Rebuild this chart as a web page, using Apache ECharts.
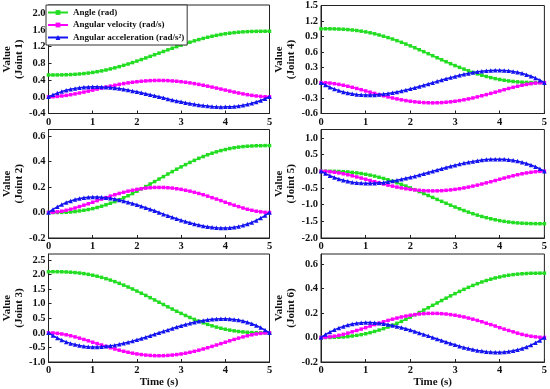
<!DOCTYPE html>
<html>
<head>
<meta charset="utf-8">
<script src="https://cdn.jsdelivr.net/npm/echarts@6/dist/echarts.min.js"></script>
<style>
html,body{margin:0;padding:0;background:#fff;}
#c{width:550px;height:389px;}
</style>
</head>
<body>
<div id="c"></div>
<script>
const time = [0,0.1,0.2,0.3,0.4,0.5,0.6,0.7,0.8,0.9,1.0,1.1,1.2,1.3,1.4,1.5,1.6,1.7,1.8,1.9,2.0,2.1,2.2,2.3,2.4,2.5,2.6,2.7,2.8,2.9,3.0,3.1,3.2,3.3,3.4,3.5,3.6,3.7,3.8,3.9,4.0,4.1,4.2,4.3,4.4,4.5,4.6,4.7,4.8,4.9,5.0];

const seriesNames = ['Angle (rad)', 'Angular velocity (rad/s)', 'Angular acceleration (rad/s\u00B2)'];
const jointNames = ['(Joint 1)', '(Joint 4)', '(Joint 2)', '(Joint 5)', '(Joint 3)', '(Joint 6)'];
const xTicks = [0,1,2,3,4,5];

const j1Angle = [0.524,0.524,0.524,0.526,0.528,0.533,0.539,0.547,0.557,0.569,0.584,0.602,0.621,0.643,0.668,0.694,0.723,0.754,0.786,0.820,0.856,0.893,0.931,0.969,1.008,1.047,1.086,1.125,1.164,1.202,1.238,1.274,1.308,1.341,1.371,1.400,1.427,1.451,1.473,1.493,1.510,1.525,1.538,1.548,1.556,1.562,1.566,1.569,1.570,1.571,1.571];
const j1Vel = [0,0.002,0.009,0.020,0.034,0.051,0.070,0.091,0.113,0.137,0.161,0.185,0.209,0.233,0.255,0.277,0.298,0.316,0.334,0.349,0.362,0.373,0.381,0.388,0.391,0.393,0.391,0.388,0.381,0.373,0.362,0.349,0.334,0.316,0.298,0.277,0.255,0.233,0.209,0.185,0.161,0.137,0.113,0.091,0.070,0.051,0.034,0.020,0.009,0.002,0];
const j1Acc = [0,0.047,0.089,0.125,0.155,0.181,0.202,0.218,0.230,0.237,0.241,0.242,0.238,0.232,0.223,0.211,0.197,0.180,0.162,0.142,0.121,0.098,0.074,0.050,0.025,0,-0.025,-0.050,-0.074,-0.098,-0.121,-0.142,-0.162,-0.180,-0.197,-0.211,-0.223,-0.232,-0.238,-0.242,-0.241,-0.237,-0.230,-0.218,-0.202,-0.181,-0.155,-0.125,-0.089,-0.047,0];

const j2Angle = [0,0,0,0.001,0.002,0.004,0.007,0.012,0.017,0.023,0.030,0.039,0.049,0.060,0.072,0.085,0.100,0.115,0.131,0.148,0.166,0.185,0.203,0.223,0.242,0.262,0.281,0.301,0.320,0.339,0.357,0.375,0.392,0.408,0.424,0.438,0.452,0.464,0.475,0.485,0.493,0.501,0.507,0.512,0.516,0.519,0.521,0.523,0.523,0.524,0.524];
const j2Vel = [0,0.001,0.005,0.010,0.017,0.025,0.035,0.046,0.057,0.068,0.080,0.093,0.105,0.116,0.128,0.139,0.149,0.158,0.167,0.174,0.181,0.186,0.191,0.194,0.196,0.196,0.196,0.194,0.191,0.186,0.181,0.174,0.167,0.158,0.149,0.139,0.128,0.116,0.105,0.093,0.080,0.068,0.057,0.046,0.035,0.025,0.017,0.010,0.005,0.001,0];
const j2Acc = [0,0.024,0.044,0.062,0.078,0.090,0.101,0.109,0.115,0.119,0.121,0.121,0.119,0.116,0.111,0.106,0.098,0.090,0.081,0.071,0.060,0.049,0.037,0.025,0.013,0,-0.013,-0.025,-0.037,-0.049,-0.060,-0.071,-0.081,-0.090,-0.098,-0.106,-0.111,-0.116,-0.119,-0.121,-0.121,-0.119,-0.115,-0.109,-0.101,-0.090,-0.078,-0.062,-0.044,-0.024,0];

const j3Angle = [2.094,2.094,2.093,2.090,2.085,2.076,2.064,2.048,2.028,2.003,1.973,1.939,1.899,1.855,1.806,1.753,1.695,1.634,1.569,1.501,1.430,1.356,1.281,1.204,1.126,1.047,0.969,0.891,0.814,0.738,0.665,0.594,0.525,0.460,0.399,0.342,0.288,0.239,0.195,0.156,0.121,0.092,0.067,0.046,0.030,0.018,0.009,0.004,0.001,0,0];
const j3Vel = [0,-0.005,-0.019,-0.040,-0.068,-0.102,-0.140,-0.182,-0.227,-0.274,-0.322,-0.370,-0.418,-0.465,-0.511,-0.554,-0.595,-0.633,-0.667,-0.698,-0.724,-0.746,-0.763,-0.775,-0.783,-0.785,-0.783,-0.775,-0.763,-0.746,-0.724,-0.698,-0.667,-0.633,-0.595,-0.554,-0.511,-0.465,-0.418,-0.370,-0.322,-0.274,-0.227,-0.182,-0.140,-0.102,-0.068,-0.040,-0.019,-0.005,0];
const j3Acc = [0,-0.095,-0.178,-0.249,-0.311,-0.362,-0.403,-0.436,-0.459,-0.475,-0.483,-0.483,-0.477,-0.464,-0.446,-0.422,-0.394,-0.361,-0.324,-0.284,-0.241,-0.196,-0.149,-0.100,-0.050,0,0.050,0.100,0.149,0.196,0.241,0.284,0.324,0.361,0.394,0.422,0.446,0.464,0.477,0.483,0.483,0.475,0.459,0.436,0.403,0.362,0.311,0.249,0.178,0.095,0];

const j4Angle = [1.047,1.047,1.047,1.045,1.042,1.038,1.032,1.024,1.014,1.001,0.987,0.969,0.950,0.927,0.903,0.876,0.848,0.817,0.784,0.750,0.715,0.678,0.640,0.602,0.563,0.524,0.484,0.445,0.407,0.369,0.332,0.297,0.263,0.230,0.200,0.171,0.144,0.120,0.098,0.078,0.061,0.046,0.033,0.023,0.015,0.009,0.005,0.002,0.001,0,0];
const j4Vel = [0,-0.002,-0.009,-0.020,-0.034,-0.051,-0.070,-0.091,-0.113,-0.137,-0.161,-0.185,-0.209,-0.233,-0.255,-0.277,-0.298,-0.316,-0.334,-0.349,-0.362,-0.373,-0.381,-0.388,-0.391,-0.393,-0.391,-0.388,-0.381,-0.373,-0.362,-0.349,-0.334,-0.316,-0.298,-0.277,-0.255,-0.233,-0.209,-0.185,-0.161,-0.137,-0.113,-0.091,-0.070,-0.051,-0.034,-0.020,-0.009,-0.002,0];
const j4Acc = [0,-0.047,-0.089,-0.125,-0.155,-0.181,-0.202,-0.218,-0.230,-0.237,-0.241,-0.242,-0.238,-0.232,-0.223,-0.211,-0.197,-0.180,-0.162,-0.142,-0.121,-0.098,-0.074,-0.050,-0.025,0,0.025,0.050,0.074,0.098,0.121,0.142,0.162,0.180,0.197,0.211,0.223,0.232,0.238,0.242,0.241,0.237,0.230,0.218,0.202,0.181,0.155,0.125,0.089,0.047,0];

const j5Angle = [0,0,-0.001,-0.003,-0.007,-0.013,-0.022,-0.035,-0.050,-0.069,-0.091,-0.117,-0.146,-0.180,-0.216,-0.256,-0.299,-0.345,-0.394,-0.445,-0.499,-0.554,-0.610,-0.668,-0.727,-0.785,-0.844,-0.903,-0.960,-1.017,-1.072,-1.125,-1.177,-1.225,-1.272,-1.315,-1.355,-1.391,-1.424,-1.454,-1.480,-1.502,-1.521,-1.536,-1.548,-1.557,-1.564,-1.568,-1.570,-1.571,-1.571];
const j5Vel = [0,-0.004,-0.014,-0.030,-0.051,-0.076,-0.105,-0.137,-0.170,-0.205,-0.241,-0.278,-0.314,-0.349,-0.383,-0.416,-0.446,-0.475,-0.500,-0.523,-0.543,-0.559,-0.572,-0.582,-0.587,-0.589,-0.587,-0.582,-0.572,-0.559,-0.543,-0.523,-0.500,-0.475,-0.446,-0.416,-0.383,-0.349,-0.314,-0.278,-0.241,-0.205,-0.170,-0.137,-0.105,-0.076,-0.051,-0.030,-0.014,-0.004,0];
const j5Acc = [0,-0.071,-0.133,-0.187,-0.233,-0.271,-0.303,-0.327,-0.345,-0.356,-0.362,-0.362,-0.358,-0.348,-0.334,-0.317,-0.295,-0.271,-0.243,-0.213,-0.181,-0.147,-0.111,-0.075,-0.038,0,0.038,0.075,0.111,0.147,0.181,0.213,0.243,0.271,0.295,0.317,0.334,0.348,0.358,0.362,0.362,0.356,0.345,0.327,0.303,0.271,0.233,0.187,0.133,0.071,0];

const j6Angle = [0,0,0,0.001,0.002,0.004,0.007,0.012,0.017,0.023,0.030,0.039,0.049,0.060,0.072,0.085,0.100,0.115,0.131,0.148,0.166,0.185,0.203,0.223,0.242,0.262,0.281,0.301,0.320,0.339,0.357,0.375,0.392,0.408,0.424,0.438,0.452,0.464,0.475,0.485,0.493,0.501,0.507,0.512,0.516,0.519,0.521,0.523,0.523,0.524,0.524];
const j6Vel = [0,0.001,0.005,0.010,0.017,0.025,0.035,0.046,0.057,0.068,0.080,0.093,0.105,0.116,0.128,0.139,0.149,0.158,0.167,0.174,0.181,0.186,0.191,0.194,0.196,0.196,0.196,0.194,0.191,0.186,0.181,0.174,0.167,0.158,0.149,0.139,0.128,0.116,0.105,0.093,0.080,0.068,0.057,0.046,0.035,0.025,0.017,0.010,0.005,0.001,0];
const j6Acc = [0,0.024,0.044,0.062,0.078,0.090,0.101,0.109,0.115,0.119,0.121,0.121,0.119,0.116,0.111,0.106,0.098,0.090,0.081,0.071,0.060,0.049,0.037,0.025,0.013,0,-0.013,-0.025,-0.037,-0.049,-0.060,-0.071,-0.081,-0.090,-0.098,-0.106,-0.111,-0.116,-0.119,-0.121,-0.121,-0.119,-0.115,-0.109,-0.101,-0.090,-0.078,-0.062,-0.044,-0.024,0];

// panel order: row-major (left col joints 1,2,3 ; right col joints 4,5,6)
const panelData = [
  [j1Angle, j1Vel, j1Acc],
  [j4Angle, j4Vel, j4Acc],
  [j2Angle, j2Vel, j2Acc],
  [j5Angle, j5Vel, j5Acc],
  [j3Angle, j3Vel, j3Acc],
  [j6Angle, j6Vel, j6Acc]
];
const yMin = [-0.4, -0.6, -0.2, -2.0, -1.0, -0.2];
const yMax = [2.2, 1.5, 0.65, 1.25, 2.7, 0.68];
const yStep = [0.4, 0.3, 0.2, 0.5, 0.5, 0.2];

const FONT = 'Liberation Serif';
const colors = ['#22dd22', '#ff00ff', '#1414f0'];
const symbols = ['rect', 'rect', 'triangle'];
const symSizes = [3.5, 3.5, 4.5];

const gridLeft = [46, 321];
const gridTop = [5, 129.5, 254];
const gridW = 223.5;
const gridH = 108.5;

const grids = [], xAxes = [], yAxes = [], series = [];
for (let i = 0; i < 6; i++) {
  const col = i % 2, row = Math.floor(i / 2);
  grids.push({
    left: gridLeft[col], top: gridTop[row], width: gridW, height: gridH,
    show: true, borderColor: '#222', borderWidth: 1, backgroundColor: 'transparent'
  });
  xAxes.push({
    type: 'value', gridIndex: i, min: xTicks[0], max: xTicks[xTicks.length - 1], interval: 1,
    axisLine: { show: true, onZero: false, lineStyle: { color: '#222', width: 1 } },
    axisTick: { show: true, inside: true, length: 3, lineStyle: { color: '#222' } },
    splitLine: { show: false },
    axisLabel: { color: '#111', fontFamily: FONT, fontWeight: 'bold', fontSize: 10.5, margin: 3 },
    name: row === 2 ? 'Time (s)' : '',
    nameLocation: 'middle', nameGap: 15,
    nameTextStyle: { color: '#111', fontFamily: FONT, fontWeight: 'bold', fontSize: 11 }
  });
  const isTick = Math.abs((yMax[i] - yMin[i]) / yStep[i] - Math.round((yMax[i] - yMin[i]) / yStep[i])) < 1e-6;
  yAxes.push({
    type: 'value', gridIndex: i, min: yMin[i], max: yMax[i], interval: yStep[i],
    axisLine: { show: true, onZero: false, lineStyle: { color: '#222', width: 1 } },
    axisTick: { show: true, inside: true, length: 3, lineStyle: { color: '#222' } },
    splitLine: { show: false },
    axisLabel: {
      color: '#111', fontFamily: FONT, fontWeight: 'bold', fontSize: 10.5, margin: 3,
      showMaxLabel: isTick, showMinLabel: true,
      formatter: v => (Math.abs(v) < 1e-9 ? 0 : v).toFixed(1)
    },
    name: 'Value\n' + jointNames[i],
    nameLocation: 'middle', nameGap: 15, nameRotate: 90,
    nameTextStyle: { color: '#111', fontFamily: FONT, fontWeight: 'bold', fontSize: 11, lineHeight: 12, align: 'center' }
  });
  for (let s = 0; s < 3; s++) {
    const arr = panelData[i][s];
    series.push({
      name: seriesNames[s], type: 'line', xAxisIndex: i, yAxisIndex: i,
      data: time.map((t, k) => [t, arr[k]]),
      color: colors[s],
      symbol: symbols[s], symbolSize: symSizes[s], showSymbol: true, showAllSymbol: true,
      lineStyle: { width: 1.5, color: colors[s] },
      itemStyle: { color: colors[s] },
      silent: true, z: 2 + s
    });
  }
}

const chart = echarts.init(document.getElementById('c'), null, { renderer: 'canvas' });
chart.setOption({
  animation: false,
  backgroundColor: '#fff',
  legend: {
    data: seriesNames, orient: 'vertical', left: 46, top: 5,
    itemWidth: 20, itemHeight: 6, itemGap: 1.5,
    padding: [2, 3, 2, 1],
    backgroundColor: '#fff', borderColor: '#333', borderWidth: 1,
    textStyle: { color: '#111', fontFamily: FONT, fontWeight: 'bold', fontSize: 9, lineHeight: 11 },
    selectedMode: false
  },
  grid: grids, xAxis: xAxes, yAxis: yAxes, series: series
});
</script>
</body>
</html>
